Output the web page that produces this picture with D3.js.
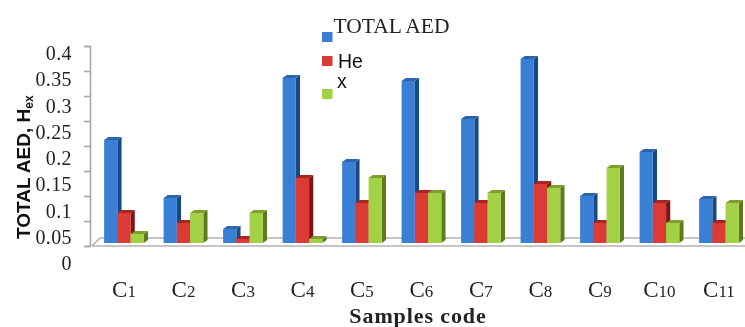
<!DOCTYPE html>
<html><head><meta charset="utf-8">
<script src="https://cdn.jsdelivr.net/npm/d3@7"></script>
<style>
html,body{margin:0;padding:0;background:#fff;overflow:hidden}
svg{display:block;filter:blur(0.4px)}
.ser{font-family:"Liberation Serif",serif;fill:#222}
.san{font-family:"Liberation Sans",sans-serif;fill:#111}
</style></head><body>
<svg id="c" width="745" height="327"></svg>
<script>
const categories=["C1","C2","C3","C4","C5","C6","C7","C8","C9","C10","C11"];
const totalAED=[0.206,0.09,0.028,0.33,0.162,0.324,0.248,0.368,0.094,0.182,0.088];
const he=[0.06,0.04,0.008,0.13,0.08,0.1,0.08,0.118,0.04,0.08,0.04];
const x_=[0.018,0.06,0.06,0.008,0.13,0.1,0.1,0.11,0.15,0.04,0.08];
const yTicks=[0,0.05,0.1,0.15,0.2,0.25,0.3,0.35,0.4];
const seriesNames=["TOTAL AED","He","x"];
const colors=[
 {front:"#3a7fd6",side:"#174a85",top:"#2c64ad"},
 {front:"#dc3b35",side:"#7d1614",top:"#a82522"},
 {front:"#a3d145",side:"#5d7a1c",top:"#7f9e2f"}];
const series=[totalAED,he,x_];

const svg=d3.select("#c");
const W=745;
const x=d3.scaleBand().domain(categories).range([94.2,748.7]).paddingInner(0.333).paddingOuter(0.1667);
const inner=d3.scaleBand().domain(d3.range(3)).range([0,x.bandwidth()]);
const y=d3.scaleLinear().domain([0,0.4]).range([243,43]);
const tickY=d3.scaleLinear().domain([0,0.4]).range([246,46]);
const labelY=d3.scaleLinear().domain([0,0.4]).range([265,55]);
const dx=4.2,dy=3;
const fmt=v=>v===0?"0":String(v);

// floor
const floor=svg.append("g").attr("stroke","#b2b2b2").attr("stroke-width",1.6).attr("fill","none");
floor.append("line").attr("x1",92).attr("x2",W).attr("y1",tickY(0)).attr("y2",tickY(0));
floor.append("line").attr("x1",100).attr("x2",W).attr("y1",238).attr("y2",238);
floor.append("line").attr("x1",92).attr("x2",100).attr("y1",tickY(0)).attr("y2",238);

// y axis
const ax=svg.append("g").attr("transform","translate(90,0)")
 .call(d3.axisLeft(tickY).tickValues(yTicks).tickSize(6).tickFormat(""));
ax.selectAll("path,line").attr("stroke","#a8a8a8").attr("stroke-width",1.6);

// bars
const g=svg.append("g");
categories.forEach((c,i)=>{
 series.forEach((s,k)=>{
  const x0=x(c)+inner(k),w=inner.bandwidth(),t=y(s[i]),b=y(0),col=colors[k];
  const bar=g.append("g");
  bar.append("path").attr("fill",col.side)
   .attr("d",d3.line()([[x0+w,t],[x0+w+dx,t-dy],[x0+w+dx,b-dy],[x0+w,b]]));
  bar.append("path").attr("fill",col.top)
   .attr("d",d3.line()([[x0,t],[x0+dx,t-dy],[x0+w+dx,t-dy],[x0+w,t]]));
  bar.append("rect").attr("x",x0).attr("y",t).attr("width",w).attr("height",b-t).attr("fill",col.front);
 });
});

// y labels
svg.append("g").selectAll("text").data(yTicks).join("text").attr("class","ser")
 .attr("x",72).attr("y",d=>labelY(d)+5).attr("text-anchor","end")
 .attr("font-size",20).attr("letter-spacing",0.4).text(fmt);

// x labels
const xl=svg.append("g").selectAll("text").data(categories).join("text").attr("class","ser")
 .attr("x",d=>x(d)+x.bandwidth()/2).attr("y",297).attr("text-anchor","middle");
xl.append("tspan").attr("font-size",23).text(d=>d[0]);
xl.append("tspan").attr("font-size",17).text(d=>d.slice(1));

// x title
svg.append("text").attr("class","ser").attr("x",418).attr("y",323).attr("text-anchor","middle")
 .attr("font-size",22).attr("letter-spacing",0.9).attr("font-weight","bold").text("Samples code");

// y title
const yt=svg.append("text").attr("class","san").attr("transform","translate(30,239) rotate(-90)")
 .attr("font-size",19).attr("font-weight","bold");
yt.append("tspan").text("TOTAL AED, H");
yt.append("tspan").attr("font-size",12).attr("dy",3).text("ex");

// legend
const legY=[32,56,89];
svg.append("g").selectAll("rect").data(colors).join("rect")
 .attr("x",322).attr("y",(d,i)=>legY[i]).attr("width",10.5).attr("height",10).attr("fill",d=>d.front);
svg.append("text").attr("class","ser").attr("x",333.5).attr("y",33).attr("font-size",21.5).text(seriesNames[0]);
svg.append("text").attr("class","san").attr("x",338).attr("y",68).attr("font-size",19.5).text(seriesNames[1]);
svg.append("text").attr("class","san").attr("x",337).attr("y",88).attr("font-size",19.5).text(seriesNames[2]);
</script>
</body></html>
